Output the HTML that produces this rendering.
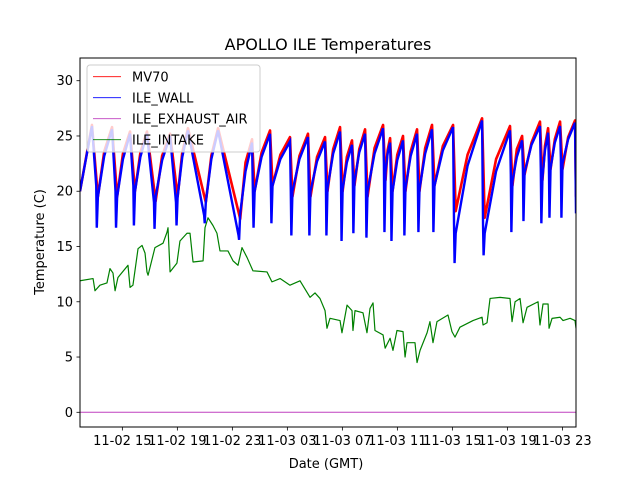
<!DOCTYPE html>
<html><head><meta charset="utf-8"><style>
html,body{margin:0;padding:0;background:#fff;}
svg{display:block;font-family:"DejaVu Sans","Liberation Sans",sans-serif;}
</style></head><body>
<svg id="chart" width="640" height="480" viewBox="0 0 640 480">
<rect x="0" y="0" width="640" height="480" fill="#fff"/>
<text x="328" y="50" font-size="16" text-anchor="middle">APOLLO ILE Temperatures</text>
<text x="0" y="0" font-size="13" text-anchor="middle" transform="translate(44,242) rotate(-90)">Temperature (C)</text>
<text x="326" y="468" font-size="13" text-anchor="middle">Date (GMT)</text>
<defs><clipPath id="plotclip"><rect x="80" y="58" width="496" height="369"/></clipPath></defs>
<g id="series" clip-path="url(#plotclip)"></g>
<g id="axes"></g>
<g id="legend"></g>
</svg>
<script>
// ---- data (time in hours since 11-02 00:00 GMT) ----
const xTickHours = [15,19,23,27,31,35,39,43,47];
const xTickLabels = ["11-02 15","11-02 19","11-02 23","11-03 03","11-03 07","11-03 11","11-03 15","11-03 19","11-03 23"];
const yTicks = [0,5,10,15,20,25,30];

const wallPeakT = [12.79,14.25,15.56,16.79,18.47,19.77,21.96,24.43,25.74,27.19,28.50,29.74,30.83,31.70,32.65,33.96,34.47,35.41,36.43,37.52,39.05,41.16,43.19,44.07,45.37,45.96,46.83];
const wallPeakV = [25.9,25.6,25.2,25.2,25.0,25.5,25.5,24.4,25.2,24.5,24.9,24.5,25.4,24.2,25.2,25.7,24.4,24.6,25.2,25.6,25.8,26.4,25.5,24.6,25.9,25.3,25.9];
const wallKneeT = [13.10,14.50,15.80,17.30,18.90,20.95,23.45,24.50,25.80,27.25,28.56,29.80,30.90,31.76,32.71,34.02,34.53,35.47,36.49,37.58,39.12,41.23,43.25,44.13,45.43,46.02,46.89];
const wallKneeV = [20.5,20.0,20.5,19.0,19.0,17.8,16.0,19.5,20.5,20.0,20.0,21.0,21.0,21.5,21.0,22.5,21.0,21.0,21.0,21.5,17.0,17.0,21.5,22.0,22.0,22.5,23.0];
const wallMinV = [16.7,16.7,16.9,16.6,16.9,17.1,15.6,16.7,17.1,16.0,16.0,16.0,15.5,16.2,15.8,16.3,15.5,16.0,16.3,16.3,13.5,14.2,16.3,17.3,17.1,17.6,17.6];
const wallRecV = [19.5,19.5,20.0,19.5,19.5,19.0,18.0,20.0,20.5,20.0,20.0,20.3,20.2,20.9,20.0,21.8,20.0,20.3,20.2,20.5,16.2,16.2,20.9,21.7,21.2,22.1,22.5];
const wallMidV = [23.2,22.9,23.1,22.8,23.1,22.9,21.8,23.1,22.9,22.9,22.7,23.4,22.6,23.5,23.4,23.4,22.8,23.2,23.4,23.7,22.3,21.8,23.1,24.2,23.7,24.4,24.7];
const wallStart = [11.92, 20.0];
const wallEnd = [[47.92, 26.2],[47.99, 18.0]];

const mvPeakV = [26.0,25.8,25.4,25.4,25.2,25.7,25.7,24.7,25.5,24.9,25.2,24.9,25.8,24.6,25.6,26.0,24.8,25.0,25.6,26.0,26.0,26.6,25.9,25.0,26.3,25.7,26.3];
const mvTroughV = [19.5,19.5,20.0,19.1,19.5,19.0,17.5,20.0,20.5,19.5,19.5,20.0,20.0,20.5,19.5,21.0,20.0,20.0,20.0,20.5,18.2,17.6,20.5,21.5,21.0,22.0,22.0];
const mvMidV = [23.6,23.4,23.5,23.2,23.5,23.2,22.6,23.5,23.3,23.2,23.1,23.8,23.1,23.8,23.9,23.7,23.3,23.6,23.9,24.1,23.3,22.9,23.8,24.4,24.1,24.7,24.9];

const intakeT = [11.92,12.87,13.01,13.37,13.88,14.10,14.32,14.47,14.68,15.41,15.56,15.77,16.14,16.43,16.65,16.79,16.87,17.37,17.96,18.25,18.32,18.47,18.97,19.19,19.70,19.92,20.14,20.87,21.01,21.23,21.59,21.88,22.10,22.68,23.05,23.41,23.70,24.07,24.50,25.52,25.88,26.47,27.19,27.92,28.65,29.01,29.37,29.74,29.88,30.10,30.83,30.97,31.34,31.70,31.77,31.92,32.50,32.79,33.01,33.23,33.37,33.96,34.11,34.47,34.68,34.97,35.41,35.56,35.70,36.28,36.43,36.65,37.16,37.37,37.59,37.88,38.68,38.97,39.19,39.55,40.50,41.16,41.23,41.52,41.74,42.47,43.19,43.34,43.56,43.92,44.14,44.43,45.23,45.37,45.59,45.96,46.03,46.25,46.83,47.05,47.56,47.92,47.99];
const intakeV = [11.9,12.1,11.0,11.5,11.7,13.0,12.6,11.0,12.2,13.3,11.3,11.5,14.8,15.1,14.4,12.7,12.4,14.9,15.3,16.3,16.7,12.7,13.5,15.5,16.2,16.2,13.6,13.7,16.7,17.6,16.9,16.2,14.6,14.6,13.7,13.3,14.9,14.0,12.8,12.7,11.8,12.1,11.5,11.9,10.4,10.8,10.3,9.2,7.6,8.5,8.3,7.2,9.7,9.2,7.4,9.2,9.0,7.2,9.4,9.9,7.4,7.0,5.8,6.7,5.6,7.4,7.3,5.0,6.3,6.3,4.5,5.6,7.2,8.2,6.3,8.2,8.8,7.3,6.8,7.7,8.3,8.6,7.9,8.1,10.3,10.4,10.3,8.2,10.0,10.3,8.1,9.5,10.0,7.9,9.8,9.8,7.6,8.5,8.6,8.3,8.5,8.3,7.6];

const exhaustT = [11.92, 47.99];
const exhaustV = [0, 0];

// ---- axes ----
const X0 = 80, X1 = 576, Y0 = 58, Y1 = 427;
const tMin = 11.92, tMax = 47.99;
function xs(t){ return X0 + (t - tMin) / (tMax - tMin) * (X1 - X0); }
function ys(v){ return 412.3 - v * 11.053; }
const NS = "http://www.w3.org/2000/svg";
function mk(tag, attrs, parent){ const e = document.createElementNS(NS, tag); for (const k in attrs) e.setAttribute(k, attrs[k]); parent.appendChild(e); return e; }
function pts(arr){ return arr.map(p => xs(p[0]).toFixed(2) + "," + ys(p[1]).toFixed(2)).join(" "); }
function nextPeakT(i){ return i + 1 < wallPeakT.length ? wallPeakT[i + 1] : 47.92; }

const series = document.getElementById("series");
const axes = document.getElementById("axes");
const legend = document.getElementById("legend");

// MV70 (red)
const mvPts = [wallStart];
for (let i = 0; i < wallPeakT.length; i++) {
  mvPts.push([wallPeakT[i], mvPeakV[i]]);
  const t0 = wallKneeT[i] + 0.12;
  mvPts.push([t0, mvTroughV[i]]);
  mvPts.push([t0 + 0.45 * (nextPeakT(i) - t0), mvMidV[i]]);
}
mvPts.push([47.92, 26.4]); mvPts.push([47.99, 19.5]);
const mvLine = mk("polyline", {points: pts(mvPts), fill: "none", stroke: "#ff0000", "stroke-width": 2.6, "stroke-linejoin": "round"}, series);



// ILE_WALL (blue)
const wPts = [wallStart];
for (let i = 0; i < wallPeakT.length; i++) {
  wPts.push([wallPeakT[i], wallPeakV[i]]);
  wPts.push([wallKneeT[i], wallKneeV[i]]);
  wPts.push([wallKneeT[i] + 0.04, wallMinV[i]]);
  const t0 = wallKneeT[i] + 0.12;
  wPts.push([t0, wallRecV[i]]);
  wPts.push([t0 + 0.45 * (nextPeakT(i) - t0), wallMidV[i]]);
}
wallEnd.forEach(p => wPts.push(p));
const wLine = mk("polyline", {points: pts(wPts), fill: "none", stroke: "#0000ff", "stroke-width": 2.4, "stroke-linejoin": "miter"}, series);



// ILE_EXHAUST_AIR (purple)
const ePts = exhaustT.map((t, i) => [t, exhaustV[i]]);
const eLine = mk("polyline", {points: pts(ePts), fill: "none", stroke: "#bf40bf", "stroke-width": 1}, series);



// ILE_INTAKE (green)
const iPts = intakeT.map((t, i) => [t, intakeV[i]]);
const iLine = mk("polyline", {points: pts(iPts), fill: "none", stroke: "#008000", "stroke-width": 1.2, "stroke-linejoin": "round"}, series);



// frame
const frame = mk("rect", {x: X0, y: Y0, width: X1 - X0, height: Y1 - Y0, fill: "none", stroke: "#000", "stroke-width": 1}, axes);



yTicks.forEach(v => {
  const y = ys(v);
  const tk = mk("line", {x1: X0 - 3.5, x2: X0, y1: y, y2: y, stroke: "#000", "stroke-width": 0.8}, axes);
  
  
  const lb = mk("text", {x: X0 - 7, y: y + 4.5, "font-size": 13, "text-anchor": "end"}, axes);
  lb.textContent = String(v);
  
  
});
xTickHours.forEach((h, i) => {
  const x = xs(h);
  const tk = mk("line", {x1: x, x2: x, y1: Y1, y2: Y1 + 3.5, stroke: "#000", "stroke-width": 0.8}, axes);
  
  
  const lb = mk("text", {x: x, y: Y1 + 18, "font-size": 13, "text-anchor": "middle"}, axes);
  lb.textContent = xTickLabels[i];
  
  
});

// legend
const lbox = mk("rect", {x: 87, y: 65, width: 173, height: 87, rx: 3, fill: "#fff", "fill-opacity": 0.8, stroke: "#ccc", "stroke-width": 1}, legend);


const legNames = ["MV70","ILE_WALL","ILE_EXHAUST_AIR","ILE_INTAKE"];
const legColors = ["#ff0000","#0000ff","#bf40bf","#008000"];
legNames.forEach((n, i) => {
  const y = 76.7 + i * 21;
  const g = mk("g", {}, legend);
  
  
  mk("line", {x1: 93, x2: 121, y1: y, y2: y, stroke: legColors[i], "stroke-width": 0.8}, g);
  const t = mk("text", {x: 132, y: y + 5, "font-size": 13}, g);
  t.textContent = n;
});
</script>
</body></html>
